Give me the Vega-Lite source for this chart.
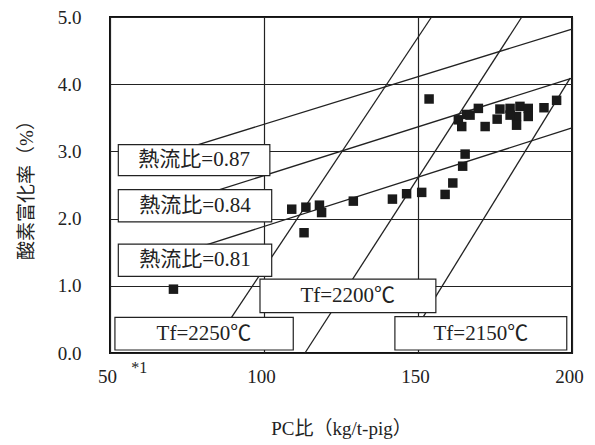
{
  "$schema": "https://vega.github.io/schema/vega-lite/v6.json",
  "width": 462,
  "height": 336,
  "autosize": {"type": "none"},
  "padding": {"left": 110, "top": 17, "right": 23, "bottom": 92},
  "background": "white",
  "config": {
    "view": {"stroke": "#111", "strokeWidth": 2},
    "font": "Liberation Serif, Noto Sans CJK JP",
    "axis": {
      "domain": false,
      "ticks": false,
      "grid": true,
      "gridColor": "#222",
      "gridWidth": 1.2,
      "gridOpacity": 1,
      "labelFont": "Liberation Serif",
      "labelFontSize": 19,
      "labelColor": "#222",
      "titleFont": "Liberation Serif, Noto Sans CJK JP",
      "titleFontSize": 19,
      "titleFontWeight": "normal",
      "titleColor": "#222"
    }
  },
  "datasets": {
    "points": [
      {"pc": 70.6, "o2": 0.95},
      {"pc": 109.0, "o2": 2.14},
      {"pc": 113.6, "o2": 2.17},
      {"pc": 118.0, "o2": 2.20},
      {"pc": 118.7, "o2": 2.09},
      {"pc": 129.0, "o2": 2.26},
      {"pc": 113.0, "o2": 1.79},
      {"pc": 141.7, "o2": 2.29},
      {"pc": 146.3, "o2": 2.37},
      {"pc": 151.2, "o2": 2.39},
      {"pc": 158.8, "o2": 2.36},
      {"pc": 161.3, "o2": 2.53},
      {"pc": 164.5, "o2": 2.78},
      {"pc": 165.3, "o2": 2.96},
      {"pc": 153.6, "o2": 3.78},
      {"pc": 163.1, "o2": 3.47},
      {"pc": 164.2, "o2": 3.37},
      {"pc": 165.8, "o2": 3.55},
      {"pc": 166.9, "o2": 3.54},
      {"pc": 169.6, "o2": 3.64},
      {"pc": 171.8, "o2": 3.37},
      {"pc": 175.7, "o2": 3.48},
      {"pc": 176.6, "o2": 3.63},
      {"pc": 179.9, "o2": 3.64},
      {"pc": 183.1, "o2": 3.67},
      {"pc": 185.8, "o2": 3.64},
      {"pc": 182.0, "o2": 3.52},
      {"pc": 185.8, "o2": 3.52},
      {"pc": 182.0, "o2": 3.39},
      {"pc": 179.9, "o2": 3.54},
      {"pc": 190.9, "o2": 3.65},
      {"pc": 195.0, "o2": 3.76}
    ],
    "guides": [
      {"name": "熱流比=0.87", "x1": 75, "y1": 3.05, "x2": 200, "y2": 4.82},
      {"name": "熱流比=0.84", "x1": 82, "y1": 2.38, "x2": 200, "y2": 4.09},
      {"name": "熱流比=0.81", "x1": 80, "y1": 1.59, "x2": 200, "y2": 3.35},
      {"name": "Tf=2250℃", "x1": 88, "y1": 0.43, "x2": 154.4, "y2": 5.0},
      {"name": "Tf=2200℃", "x1": 113.3, "y1": 0.0, "x2": 183.7, "y2": 5.0},
      {"name": "Tf=2150℃", "x1": 150, "y1": 0.41, "x2": 199.4, "y2": 4.09}
    ],
    "boxes": [
      {"label": "熱流比=0.87", "x1": 52.7, "x2": 101.9, "y1": 2.64, "y2": 3.10, "xc": 77.3, "yc": 2.87},
      {"label": "熱流比=0.84", "x1": 52.7, "x2": 102.5, "y1": 1.95, "y2": 2.43, "xc": 77.6, "yc": 2.19},
      {"label": "熱流比=0.81", "x1": 52.7, "x2": 102.5, "y1": 1.14, "y2": 1.62, "xc": 77.6, "yc": 1.38},
      {"label": "Tf=2200℃", "x1": 98.7, "x2": 155.8, "y1": 0.60, "y2": 1.10, "xc": 127.2, "yc": 0.85},
      {"label": "Tf=2250℃", "x1": 51.6, "x2": 109.5, "y1": 0.045, "y2": 0.53, "xc": 80.5, "yc": 0.29},
      {"label": "Tf=2150℃", "x1": 142.5, "x2": 198.3, "y1": 0.045, "y2": 0.54, "xc": 170.4, "yc": 0.29}
    ],
    "notes": [
      {"note": "*1", "pc": 59.5, "o2": -0.22}
    ]
  },
  "layer": [
    {
      "data": {"name": "guides"},
      "mark": {"type": "rule", "color": "#222", "strokeWidth": 1.3},
      "encoding": {
        "x": {
          "field": "x1", "type": "quantitative",
          "scale": {"domain": [50, 200], "nice": false, "zero": false},
          "axis": {
            "values": [50, 100, 150, 200],
            "labelFlush": false,
            "labelPadding": 14,
            "labelOffset": -3,
            "title": "PC比（kg/t-pig）",
            "titlePadding": 33
          }
        },
        "x2": {"field": "x2"},
        "y": {
          "field": "y1", "type": "quantitative",
          "scale": {"domain": [0, 5], "nice": false, "zero": false},
          "axis": {
            "values": [0, 1, 2, 3, 4, 5],
            "format": ".1f",
            "labelPadding": 29,
            "title": "酸素富化率（%）",
            "titlePadding": 21
          }
        },
        "y2": {"field": "y2"}
      }
    },
    {
      "data": {"name": "boxes"},
      "mark": {"type": "rect", "fill": "white", "stroke": "#222", "strokeWidth": 1.2},
      "encoding": {
        "x": {"field": "x1", "type": "quantitative"},
        "x2": {"field": "x2"},
        "y": {"field": "y1", "type": "quantitative"},
        "y2": {"field": "y2"}
      }
    },
    {
      "data": {"name": "boxes"},
      "mark": {"type": "text", "fontSize": 21, "color": "#222", "align": "center", "baseline": "middle", "font": "Liberation Serif, Noto Sans CJK JP"},
      "encoding": {
        "x": {"field": "xc", "type": "quantitative"},
        "y": {"field": "yc", "type": "quantitative"},
        "text": {"field": "label"}
      }
    },
    {
      "data": {"name": "points"},
      "mark": {"type": "square", "filled": true, "color": "#1a1a1a", "size": 90, "opacity": 1},
      "encoding": {
        "x": {"field": "pc", "type": "quantitative"},
        "y": {"field": "o2", "type": "quantitative"}
      }
    },
    {
      "data": {"name": "notes"},
      "mark": {"type": "text", "fontSize": 16, "color": "#222", "align": "center", "baseline": "middle", "font": "Liberation Serif"},
      "encoding": {
        "x": {"field": "pc", "type": "quantitative"},
        "y": {"field": "o2", "type": "quantitative"},
        "text": {"field": "note"}
      }
    }
  ]
}
